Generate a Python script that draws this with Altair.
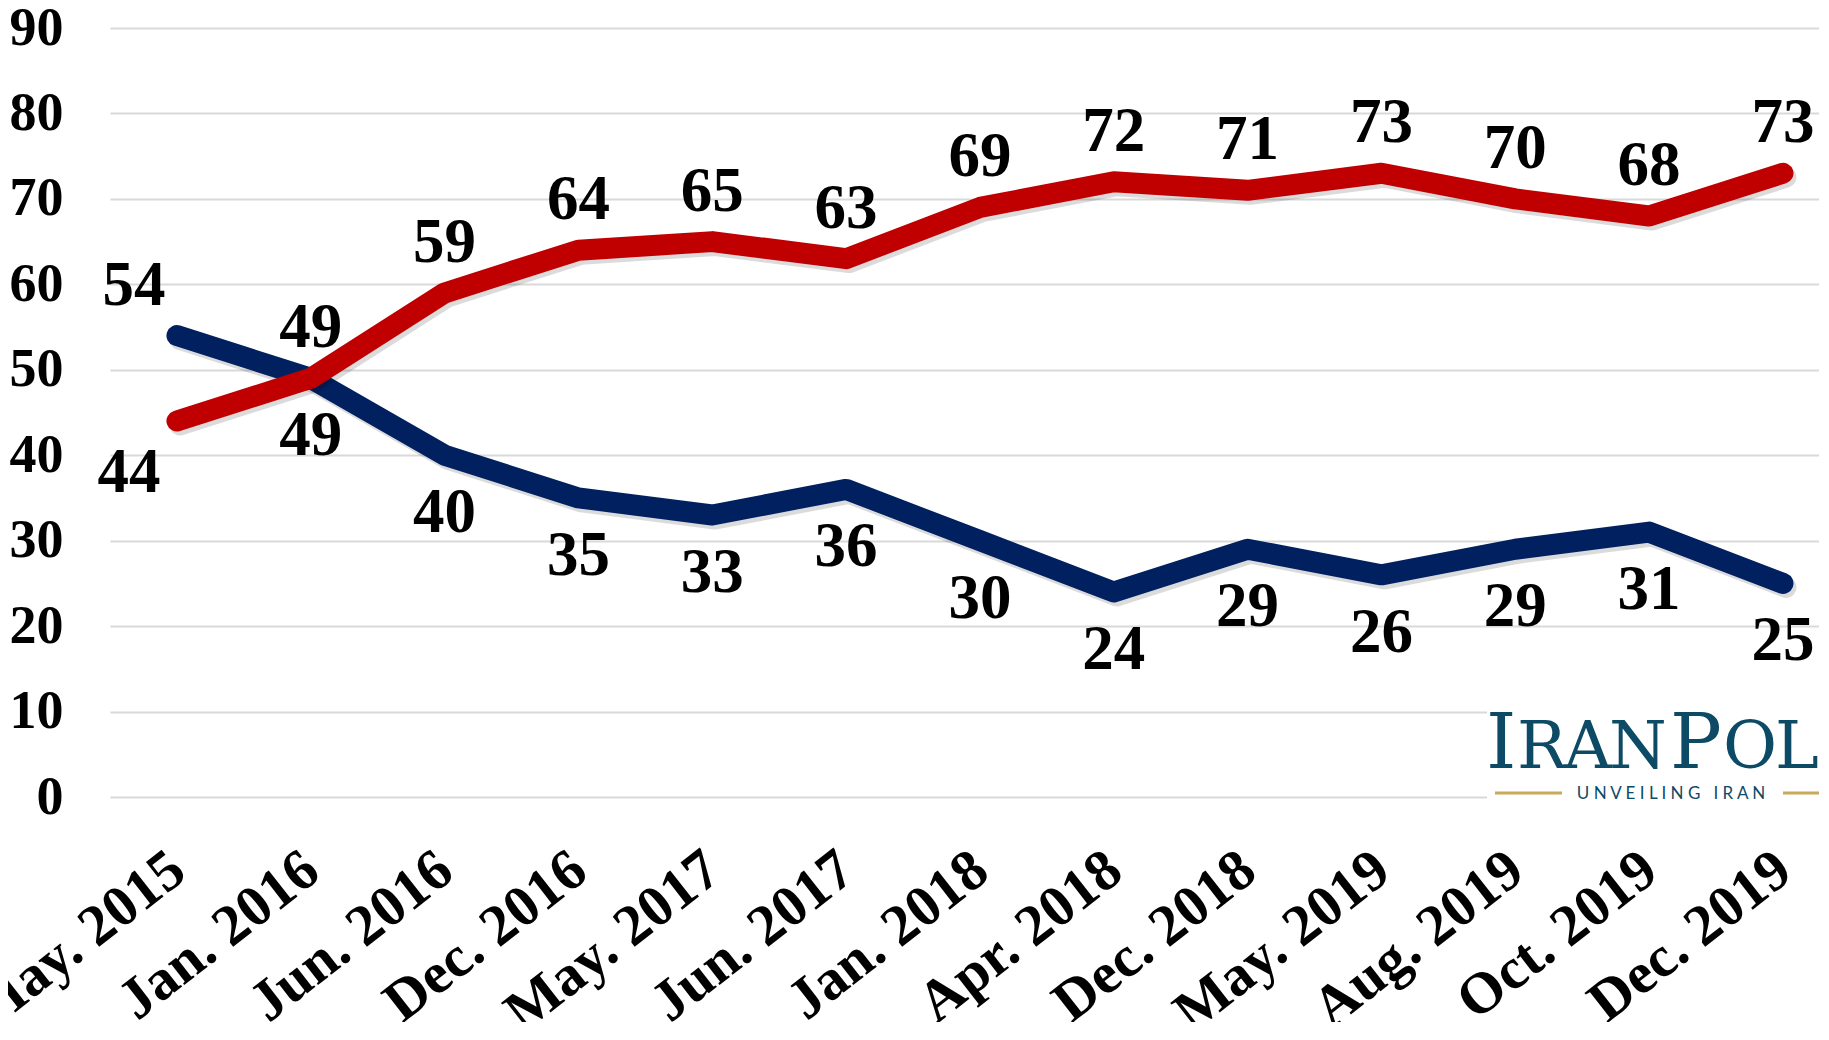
import altair as alt
import pandas as pd

dates = ["May. 2015", "Jan. 2016", "Jun. 2016", "Dec. 2016", "May. 2017", "Jun. 2017",
         "Jan. 2018", "Apr. 2018", "Dec. 2018", "May. 2019", "Aug. 2019", "Oct. 2019", "Dec. 2019"]
red_values = [44, 49, 59, 64, 65, 63, 69, 72, 71, 73, 70, 68, 73]
blue_values = [54, 49, 40, 35, 33, 36, 30, 24, 29, 26, 29, 31, 25]
y_ticks = [0, 10, 20, 30, 40, 50, 60, 70, 80, 90]

RED = "#C00000"
BLUE = "#002060"
LOGO = "#0d4a66"
GOLD = "#c9a95c"

rows = []
for i, d in enumerate(dates):
    rows.append({"date": d, "idx": i, "series": "Red", "value": red_values[i]})
    rows.append({"date": d, "idx": i, "series": "Blue", "value": blue_values[i]})
df = pd.DataFrame(rows)
one = pd.DataFrame({"k": [0]})

W, H = 1709, 769
SERIF = "Liberation Serif"

x_enc = alt.X(
    "date:N", sort=dates,
    scale=alt.Scale(type="point", padding=0.3848, align=0.65),
    axis=alt.Axis(title=None, labelAngle=-38, labelFont=SERIF, labelFontWeight="bold",
                  labelFontSize=58, labelColor="black", labelPadding=43, labelOffset=-17,
                  ticks=False, tickSize=0, domain=False, grid=False, labelOverlap=False,
                  labelLimit=0),
)
y_enc = alt.Y(
    "value:Q",
    scale=alt.Scale(domain=[0, 90], nice=False, zero=True),
    axis=alt.Axis(title=None, values=y_ticks, labelFont=SERIF, labelFontWeight="bold",
                  labelFontSize=54, labelColor="black", labelPadding=47, ticks=False,
                  tickSize=0, domain=False, grid=True, gridColor="#D9D9D9", gridWidth=2),
)

base = alt.Chart(df).encode(x=x_enc, y=y_enc)

line_props = dict(strokeWidth=21, strokeCap="round", strokeJoin="round")

blue_shadow = base.transform_filter("datum.series == 'Blue'").mark_line(
    color="black", opacity=0.14, xOffset=3, yOffset=4, **line_props)
blue_line = base.transform_filter("datum.series == 'Blue'").mark_line(color=BLUE, **line_props)
red_shadow = base.transform_filter("datum.series == 'Red'").mark_line(
    color="black", opacity=0.14, xOffset=3, yOffset=4, **line_props)
red_line = base.transform_filter("datum.series == 'Red'").mark_line(color=RED, **line_props)

txt = dict(font=SERIF, fontWeight="bold", fontSize=63, color="black", baseline="middle")
lab_above = base.transform_filter(
    "(datum.series == 'Red' && datum.idx > 0)").mark_text(dy=-50, **txt).encode(text="value:Q")
lab_below = base.transform_filter(
    "(datum.series == 'Blue' && datum.idx > 0)").mark_text(dy=58, **txt).encode(text="value:Q")
lab_first_above = base.transform_filter(
    "(datum.series == 'Blue' && datum.idx == 0)").mark_text(dy=-50, dx=-43, **txt).encode(text="value:Q")
lab_first_below = base.transform_filter(
    "(datum.series == 'Red' && datum.idx == 0)").mark_text(dy=52, dx=-48, **txt).encode(text="value:Q")

# Logo (IranPoll), drawn letter by letter to mimic its wide small-caps lettering
LOGO_SERIF = "DejaVu Serif"
ann = alt.Chart(one)
logo_box = ann.mark_rect(color="white").encode(
    x=alt.value(1377), x2=alt.value(1720), y=alt.value(632), y2=alt.value(805))
logo_letters = [("I", 1376, 77), ("R", 1407, 66), ("A", 1454, 66), ("N", 1499, 66),
                ("P", 1560, 77), ("O", 1613, 66), ("L", 1665, 66), ("L", 1706, 66)]
logo_marks = [
    ann.mark_text(font=LOGO_SERIF, color=LOGO, align="left", baseline="alphabetic",
                  fontSize=size).encode(x=alt.value(lx), y=alt.value(740), text=alt.value(ch))
    for ch, lx, size in logo_letters
]
gold1 = ann.mark_rule(color=GOLD, strokeWidth=3).encode(
    x=alt.value(1385), x2=alt.value(1452), y=alt.value(765))
gold2 = ann.mark_rule(color=GOLD, strokeWidth=3).encode(
    x=alt.value(1673), x2=alt.value(1720), y=alt.value(765))
tagline = ann.mark_text(font="Lato", fontSize=17, color=LOGO, align="center",
                        baseline="alphabetic").encode(
    x=alt.value(1561), y=alt.value(771),
    text=alt.value("U N V E I L I N G\u00a0\u00a0\u00a0I R A N"))

chart = alt.layer(
    blue_shadow, blue_line, red_shadow, red_line,
    logo_box, *logo_marks, gold1, gold2, tagline,
    lab_above, lab_below, lab_first_above, lab_first_below,
).properties(
    width=W, height=H,
    autosize=alt.AutoSizeParams(type="none"),
    padding={"left": 102, "top": 20, "right": 0, "bottom": 225},
    background="white",
).configure_view(stroke=None)

chart.save("out.html", embed_options={"renderer": "svg", "actions": False})
